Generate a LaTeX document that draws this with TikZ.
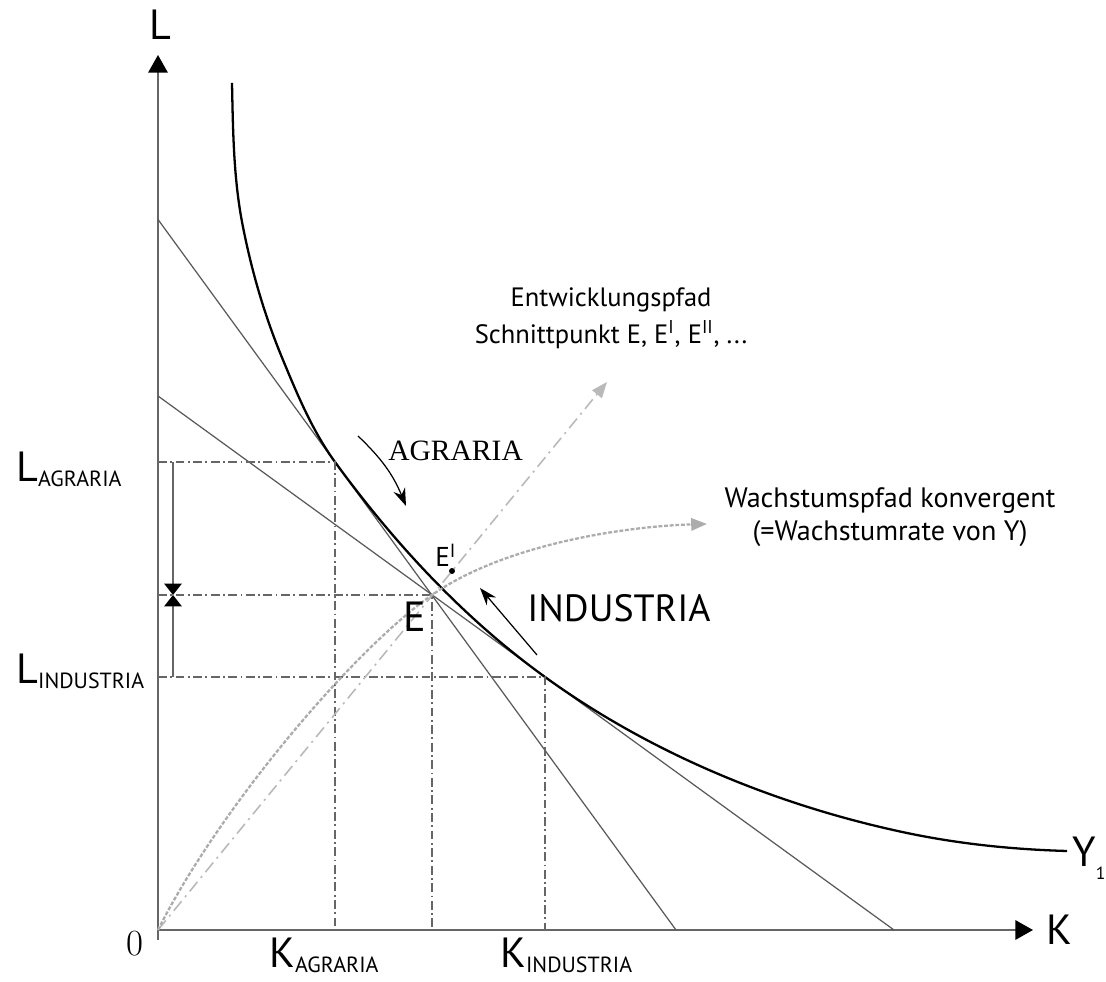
\documentclass[tikz,border=0pt]{standalone}
\usepackage{fontspec}
\newfontfamily\labelfont{PT Sans}
\newfontfamily\titlefont{Liberation Serif}
\usetikzlibrary{arrows.meta}
\newcommand{\lowsub}[1]{\raisebox{-0.1em}{\fontsize{12.5}{12.5}\selectfont #1}}

\begin{document}
\begin{tikzpicture}[x=1cm, y=1cm,
    axis/.style={gray!80!black, line width=1pt, -{Triangle[length=10pt,width=11pt,color=black]}},
    isoquant/.style={black, line width=1.3pt},
    budget/.style={gray!70!black, line width=0.7pt},
    helper/.style={gray!80!black, line width=0.7pt, dash pattern=on 5pt off 2pt on 1pt off 2pt},
    devpath/.style={gray!55, line width=0.9pt, dash pattern=on 7pt off 3pt on 1.2pt off 3pt, -{Triangle[length=9pt,width=7pt]}},
    growpath/.style={gray!65, line width=1.3pt, dash pattern=on 2.2pt off 1pt, -{Triangle[length=9pt,width=7pt]}},
    move/.style={black, line width=0.7pt, -{Stealth[length=10pt,width=7pt]}},
    biglbl/.style={inner sep=0pt, font=\labelfont\fontsize{24}{24}\selectfont},
    note/.style={inner sep=0pt, align=center, font=\labelfont\fontsize{15.1}{21}\selectfont}
]

    \useasboundingbox (-3.16,-1.04) rectangle (18.96,18.6);

    %----- POINTS -----
    \coordinate (O) at (0,0);
    \coordinate (Lbot) at (0,-0.2);
    \coordinate (Ltop) at (0,17.5);
    \coordinate (Kend) at (17.5,0);
    \coordinate (A) at (3.54,9.36);  % tangency AGRARIA
    \coordinate (I) at (7.74,5.06);  % tangency INDUSTRIA
    \coordinate (E) at (5.48,6.70);

    %----- AXES -----
    \draw[axis] (Lbot) -- (Ltop);
    \draw[axis] (O) -- (Kend);

    %----- PRICE LINES -----
    \coordinate (aL) at (0,14.21);
    \coordinate (aK) at (10.36,0);
    \coordinate (iL) at (0,10.68);
    \coordinate (iK) at (14.72,0);
    \draw[budget] (aL) -- (aK);
    \draw[budget] (iL) -- (iK);

    %----- ISOQUANT Y1 -----
    \coordinate (Ytop) at (1.48,16.94);
    \coordinate (Yend) at (18.18,1.58);
    \draw[isoquant] (Ytop)
        .. controls (1.50,15.98) and (1.51,15.00) .. (1.70,14.06)
        .. controls (1.88,13.15) and (2.14,12.26) .. (2.50,11.40)
        .. controls (2.79,10.70) and (3.09,9.98) .. (A)
        .. controls (4.72,7.74) and (6.12,6.23) .. (I)
        .. controls (9.87,3.52) and (12.41,2.48) .. (14.98,1.94)
        .. controls (16.03,1.72) and (17.11,1.61) .. (Yend);

    %----- HELPER LINES -----
    \draw[helper] (A -| O) -- (A) -- (A |- O);
    \draw[helper] (E -| O) -- (E) -- (E |- O);
    \draw[helper] (I -| O) -- (I) -- (I |- O);

    %----- DOUBLE ARROW ON L AXIS -----
    \coordinate (barA) at (0.30,9.36);
    \coordinate (barE) at (0.30,6.70);
    \coordinate (barI) at (0.30,5.06);
    \draw[gray!80!black, line width=0.8pt, -{Triangle[length=6.5pt,width=10pt,color=black]}] (barA) -- (barE);
    \draw[gray!80!black, line width=0.8pt, -{Triangle[length=6.5pt,width=10pt,color=black]}] (barI) -- (barE);

    %----- PATHS -----
    \coordinate (devtip) at (8.98,10.96);
    \coordinate (growtip) at (10.98,8.12);
    \draw[devpath] (O) -- (devtip);
    \draw[growpath] (O) .. controls (1.2,2.4) and (3.9,5.6) .. (E)
        .. controls (7.0,7.76) and (9.5,8.08) .. (growtip);

    %----- MOVEMENTS -----
    \coordinate (agS) at (4.00,9.88);
    \coordinate (agE) at (4.96,8.48);
    \coordinate (inS) at (7.58,5.50);
    \coordinate (inE) at (6.44,6.84);
    \draw[move] (agS) to[bend left=12] (agE);
    \draw[move] (inS) -- (inE);

    %----- LABELS -----
    \node[biglbl] (lblL) at (0.04,18.10) {L};
    \node[biglbl] (lblK) at (18.02,0) {K};
    \node[biglbl, anchor=base west] (lblY) at (18.28,1.26) {Y\raisebox{-7pt}{\fontsize{10}{10}\selectfont 1}};
    \node[biglbl, anchor=base west] (lblLag) at (-2.84,8.96) {L\lowsub{AGRARIA}};
    \node[biglbl, anchor=base west] (lblLin) at (-2.84,4.92) {L\lowsub{INDUSTRIA}};
    \node[biglbl, anchor=base west] (lblKag) at (2.22,-0.76) {K\lowsub{AGRARIA}};
    \node[biglbl, anchor=base west] (lblKin) at (6.84,-0.76) {K\lowsub{INDUSTRIA}};
    \node[inner sep=0pt, font=\fontsize{21}{21}\selectfont] (lblO) at (-0.46,-0.28) {0};
    \node[biglbl, anchor=base west] (lblE) at (4.90,5.96) {E};
    \node[inner sep=0pt, anchor=base west, font=\labelfont\fontsize{15.5}{15.5}\selectfont] (lblEI) at (5.54,7.26) {E\textsuperscript{I}};
    \node[circle, fill=black, inner sep=1.2pt] (dotEI) at (5.88,7.18) {};
    \node[inner sep=0pt, anchor=base west, font=\titlefont\fontsize{16.8}{16.8}\selectfont] (lblAg) at (4.60,9.38) {AGRARIA};
    \node[inner sep=0pt, anchor=base west, font=\labelfont\fontsize{21.6}{21.6}\selectfont] (lblIn) at (7.38,6.16) {INDUSTRIA};
    \node[note] (devnote) at (9.06,12.24) {Entwicklungspfad\\Schnittpunkt E, E\textsuperscript{I}, E\textsuperscript{II}, ...};
    \node[note, font=\labelfont\fontsize{16}{18.6}\selectfont] (grownote) at (14.64,8.26) {Wachstumspfad konvergent\\(=Wachstumrate von Y)};

\end{tikzpicture}
\end{document}
